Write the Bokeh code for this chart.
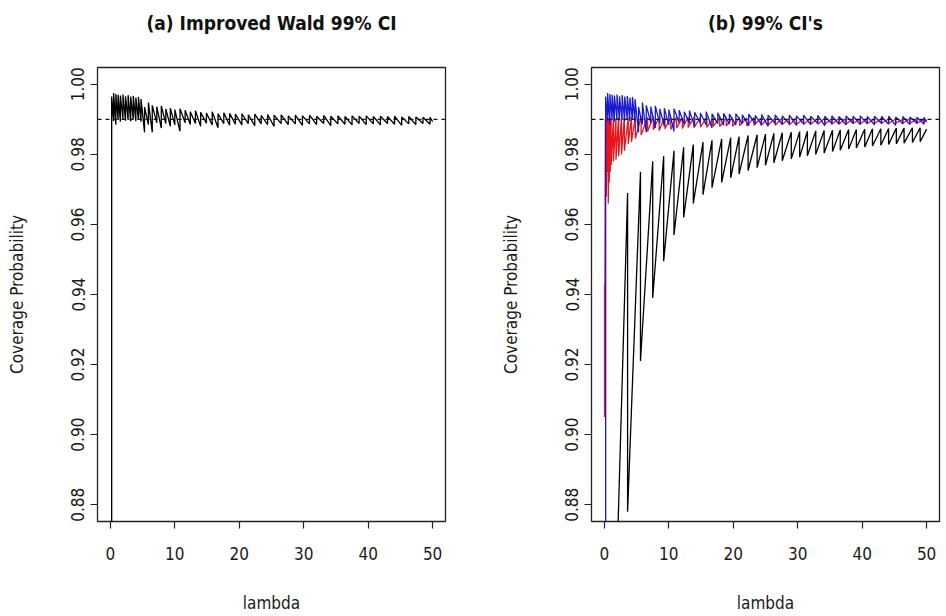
from bokeh.plotting import figure
from bokeh.layouts import row, column
from bokeh.models import Range1d, FixedTicker, PrintfTickFormatter, Span
from bokeh.core.properties import value
from bokeh.embed import file_html
from bokeh.resources import INLINE

# ---------------- data ----------------
titles = ["(a) Improved Wald 99% CI", "(b) 99% CI's"]
x_label = "lambda"
y_label = "Coverage Probability"
x_ticks = [0, 10, 20, 30, 40, 50]
y_ticks = [0.88, 0.90, 0.92, 0.94, 0.96, 0.98, 1.00]
nominal = 0.99

# Improved Wald (panel a black, panel b blue): jump up to hi, then fall to next lo
imp_lam = [0.2, 0.5, 0.85, 1.2, 1.55, 1.95, 2.35, 2.75, 3.15, 3.55, 3.95, 4.35, 4.75,
           5.3, 5.9, 6.5, 7.2, 7.9, 8.6, 9.3, 10.0, 10.8,
           11.6, 12.4, 13.2, 14.0, 14.9, 15.8, 16.7, 17.6, 18.5, 19.4,
           20.4, 21.4, 22.4, 23.4, 24.4, 25.4, 26.5, 27.6, 28.7, 29.8,
           30.9, 32.0, 33.1, 34.2, 35.3, 36.4, 37.5, 38.6, 39.7,
           40.8, 41.9, 43.0, 44.1, 45.2, 46.3, 47.4, 48.5, 49.6, 50.0]
imp_hi = [0.9965, 0.9975, 0.9972, 0.9970, 0.9968, 0.9971, 0.9966, 0.9969, 0.9965, 0.9967, 0.9962, 0.9964, 0.9958,
          0.9935, 0.9948, 0.9940, 0.9936, 0.9938, 0.9930, 0.9932, 0.9928, 0.9930,
          0.9926, 0.9922, 0.9925, 0.9920, 0.9918, 0.9922, 0.9916, 0.9919, 0.9917, 0.9915,
          0.9916, 0.9913, 0.9915, 0.9911, 0.9914, 0.9912, 0.9913, 0.9910, 0.9912, 0.9910,
          0.9912, 0.9909, 0.9911, 0.9909, 0.9910, 0.9908, 0.9910, 0.9909, 0.9910,
          0.9908, 0.9909, 0.9908, 0.9909, 0.9907, 0.9908, 0.9907, 0.9906, 0.9906, 0.9893]
imp_lo = [0.8600, 0.9895, 0.9885, 0.9898, 0.9893, 0.9900, 0.9896, 0.9898, 0.9894, 0.9900, 0.9895, 0.9898, 0.9893,
          0.9863, 0.9885, 0.9863, 0.9890, 0.9875, 0.9888, 0.9880, 0.9884, 0.9866,
          0.9890, 0.9885, 0.9888, 0.9880, 0.9889, 0.9884, 0.9876, 0.9888, 0.9883, 0.9886,
          0.9884, 0.9888, 0.9882, 0.9887, 0.9885, 0.9880, 0.9888, 0.9885, 0.9887, 0.9883,
          0.9887, 0.9885, 0.9888, 0.9882, 0.9887, 0.9886, 0.9884, 0.9888, 0.9885,
          0.9887, 0.9884, 0.9888, 0.9886, 0.9883, 0.9887, 0.9885, 0.9888, 0.9886, 0.9893]

# Standard Wald (panel b black): rises to hi, then drops to lo
wald_lam = [1.9, 3.6, 5.6, 7.5, 9.2, 10.8, 12.3, 13.8, 15.3, 16.7, 18.2, 19.6, 20.9,
            22.3, 23.7, 25.0, 26.3, 27.6, 29.0, 30.3, 31.5, 32.8, 34.1, 35.4, 36.6,
            37.9, 39.1, 40.4, 41.6, 42.9, 44.1, 45.3, 46.5, 47.8, 49.0, 50.0]
wald_hi = [0.860, 0.969, 0.975, 0.978, 0.9795, 0.981, 0.982, 0.9828, 0.9835, 0.984, 0.9844, 0.9848, 0.9851,
           0.9854, 0.9856, 0.9858, 0.986, 0.9862, 0.9863, 0.9865, 0.9866, 0.9867, 0.9868, 0.9869, 0.987,
           0.9871, 0.9871, 0.9872, 0.9873, 0.9873, 0.9874, 0.9875, 0.9875, 0.9876, 0.9876, 0.9872]
wald_lo = [0.860, 0.878, 0.921, 0.939, 0.9495, 0.957, 0.962, 0.966, 0.9685, 0.9705, 0.972, 0.9733, 0.9744,
           0.9754, 0.9762, 0.9769, 0.9776, 0.9782, 0.9787, 0.9792, 0.9796, 0.980, 0.9804, 0.9808, 0.9812,
           0.9815, 0.9818, 0.9821, 0.9824, 0.9826, 0.9828, 0.983, 0.9832, 0.9834, 0.9836, 0.9872]

# Score interval (panel b red): rises to hi, then drops to lo
score_lam = [0.02, 0.15, 0.3, 0.45, 0.6, 0.75, 0.9, 1.05, 1.4, 1.8, 2.2, 2.65, 3.1, 3.7, 4.2, 4.8,
             5.7, 6.7, 7.6, 8.5, 9.4, 10.3, 11.2, 12.1, 13.0, 13.9, 14.9, 15.9, 16.9, 17.9, 18.9, 19.9,
             21.0, 22.1, 23.2, 24.3, 25.4, 26.5, 27.6, 28.7, 29.8, 30.9, 32.0, 33.1, 34.2, 35.3,
             36.4, 37.5, 38.6, 39.7, 40.8, 41.9, 43.0, 44.1, 45.2, 46.3, 47.4, 48.5, 49.6, 50.0]
score_hi = [0.943, 0.990, 0.9905, 0.990, 0.9902, 0.990, 0.9905, 0.990, 0.9905, 0.9903, 0.9906, 0.9904, 0.9907, 0.9905, 0.9907, 0.9906,
            0.9908, 0.9906, 0.9908, 0.9907, 0.9908, 0.9906, 0.9907, 0.9905, 0.9907, 0.9906, 0.9905, 0.9906, 0.9904, 0.9906, 0.9905, 0.9904,
            0.9905, 0.9904, 0.9905, 0.9903, 0.9904, 0.9903, 0.9904, 0.9903, 0.9904, 0.9902, 0.9903, 0.9902, 0.9903, 0.9902,
            0.9903, 0.9902, 0.9902, 0.9901, 0.9902, 0.9901, 0.9902, 0.9901, 0.9901, 0.9900, 0.9901, 0.9900, 0.9900, 0.9898]
score_lo = [0.905, 0.972, 0.968, 0.975, 0.966, 0.972, 0.975, 0.977, 0.978, 0.9785, 0.9795, 0.980, 0.981, 0.983, 0.9835, 0.9845,
            0.9855, 0.9865, 0.987, 0.9868, 0.9873, 0.9871, 0.9875, 0.9874, 0.9877, 0.9876, 0.9878, 0.9877, 0.988, 0.9879, 0.9881, 0.988,
            0.9882, 0.9881, 0.9883, 0.9882, 0.9884, 0.9883, 0.9885, 0.9884, 0.9885, 0.9885, 0.9886, 0.9886, 0.9887, 0.9886,
            0.9887, 0.9887, 0.9888, 0.9887, 0.9888, 0.9888, 0.9889, 0.9888, 0.9889, 0.9889, 0.9889, 0.9889, 0.989, 0.9898]

assert len(imp_lam) == len(imp_hi) == len(imp_lo)
assert len(wald_lam) == len(wald_hi) == len(wald_lo)
assert len(score_lam) == len(score_hi) == len(score_lo)


def rise_path(lam, hi, lo):
    xs, ys = [], []
    for l, h, w in zip(lam, hi, lo):
        xs += [l, l]
        ys += [w, h]
    return xs, ys


def drop_path(lam, hi, lo):
    xs, ys = [], []
    for l, h, w in zip(lam, hi, lo):
        xs += [l, l]
        ys += [h, w]
    return xs, ys


FONT = "'Liberation Sans Narrow', 'DejaVu Sans Condensed', 'Liberation Sans', Arial, sans-serif"
TXT = "#1a1a1a"
X0, X1, Y0, Y1 = -2, 52, 0.8752, 1.0048

# layout geometry (pixels)
W_PANEL = 473
FRAME_W, FRAME_H = 348, 454
STRIP_H = 45
LEFT_A, LEFT_B = 97, 118


def make_fig(border_left):
    p = figure(frame_width=FRAME_W, frame_height=FRAME_H,
               x_range=Range1d(X0, X1), y_range=Range1d(Y0, Y1),
               output_backend="svg", toolbar_location=None,
               min_border_left=border_left,
               min_border_right=W_PANEL - border_left - FRAME_W,
               min_border_top=67 - STRIP_H, min_border_bottom=95,
               background_fill_color="white", border_fill_color="white")
    p.grid.visible = False
    p.outline_line_color = "#222222"
    p.outline_line_width = 1.3
    p.outline_line_alpha = 1.0

    p.xaxis.ticker = FixedTicker(ticks=x_ticks)
    p.yaxis.ticker = FixedTicker(ticks=y_ticks)
    p.yaxis.formatter = PrintfTickFormatter(format="%.2f")
    for ax in (p.xaxis[0], p.yaxis[0]):
        ax.axis_line_color = None
        ax.major_tick_line_color = "#222222"
        ax.major_tick_line_width = 1.2
        ax.major_tick_out = 7
        ax.major_tick_in = 0
        ax.minor_tick_line_color = None
        ax.major_label_text_font = FONT
        ax.major_label_text_font_size = "17px"
        ax.major_label_text_color = TXT
        ax.axis_label_text_font = FONT
        ax.axis_label_text_font_size = "17px"
        ax.axis_label_text_font_style = "normal"
        ax.axis_label_text_color = TXT
    p.xaxis.axis_label = x_label
    p.yaxis.axis_label = y_label
    p.yaxis.major_label_orientation = "vertical"
    p.xaxis.major_label_standoff = 18
    p.xaxis.axis_label_standoff = 30
    p.yaxis.major_label_standoff = 6
    p.yaxis.axis_label_standoff = 42
    p.add_layout(Span(location=nominal, dimension="width", line_color="#111111",
                      line_dash="4 4", line_width=1.1))
    return p


# title strip above both panels (pixel coordinates)
strip = figure(width=2 * W_PANEL, height=STRIP_H, x_range=Range1d(0, 2 * W_PANEL),
               y_range=Range1d(0, STRIP_H), output_backend="svg", toolbar_location=None,
               min_border=0, outline_line_color=None,
               background_fill_color="white", border_fill_color="white")
strip.axis.visible = False
strip.grid.visible = False
title_x = [LEFT_A + FRAME_W / 2, W_PANEL + LEFT_B + FRAME_W / 2]
strip.text(x=title_x, y=[STRIP_H - 22] * 2, text=titles, text_align="center",
           text_baseline="middle", text_font=value(FONT), text_font_size="19px",
           text_font_style="bold", text_color="#111111")

p1 = make_fig(LEFT_A)
x, y = rise_path(imp_lam, imp_hi, imp_lo)
p1.line(x, y, line_color="black", line_width=1.3)

p2 = make_fig(LEFT_B)
x, y = drop_path(wald_lam, wald_hi, wald_lo)
p2.line(x, y, line_color="black", line_width=1.3)
x, y = drop_path(score_lam, score_hi, score_lo)
p2.line(x, y, line_color="#e8151b", line_width=1.3)
x, y = rise_path(imp_lam, imp_hi, imp_lo)
p2.line(x, y, line_color="#1a1ad0", line_width=1.3)

layout = column(strip, row(p1, p2, spacing=0), spacing=0)
open("out.html", "w").write(file_html(layout, INLINE))
